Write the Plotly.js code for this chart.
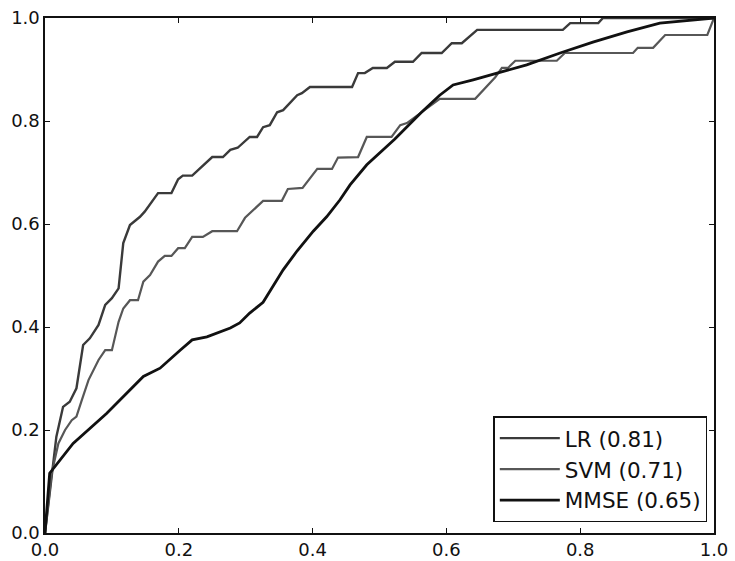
<!DOCTYPE html>
<html>
<head>
<meta charset="utf-8">
<script src="https://cdn.plot.ly/plotly-3.0.1.min.js"></script>
<style>html,body{margin:0;padding:0;background:#fff;}#chart{width:735px;height:561px;}</style>
</head>
<body>
<div id="chart"></div>
<script>
// LR (AUC 0.81)
const lrX = [0,0.010,0.017,0.027,0.037,0.047,0.057,0.067,0.080,0.090,0.100,0.110,0.117,0.127,0.142,0.149,0.159,0.169,0.189,0.199,0.206,0.220,0.250,0.266,0.277,0.288,0.306,0.317,0.326,0.336,0.347,0.356,0.377,0.384,0.396,0.459,0.468,0.478,0.490,0.511,0.523,0.550,0.563,0.593,0.608,0.623,0.646,0.774,0.785,0.827,0.834,1.0];
const lrY = [0,0.116,0.187,0.245,0.255,0.281,0.365,0.378,0.404,0.443,0.456,0.475,0.563,0.598,0.614,0.624,0.643,0.660,0.660,0.687,0.694,0.694,0.730,0.730,0.744,0.748,0.769,0.769,0.788,0.792,0.817,0.821,0.850,0.854,0.866,0.866,0.893,0.893,0.903,0.903,0.915,0.915,0.932,0.932,0.951,0.951,0.977,0.977,0.990,0.990,1.0,1.0];
// SVM (AUC 0.71)
const svmX = [0,0.010,0.020,0.030,0.040,0.047,0.055,0.065,0.080,0.090,0.100,0.110,0.117,0.127,0.139,0.147,0.157,0.169,0.179,0.189,0.199,0.209,0.220,0.236,0.250,0.287,0.299,0.326,0.354,0.363,0.385,0.407,0.429,0.438,0.468,0.481,0.518,0.531,0.541,0.573,0.590,0.643,0.655,0.673,0.683,0.692,0.703,0.765,0.777,0.879,0.886,0.909,0.927,0.990,1.0];
const svmY = [0,0.116,0.174,0.200,0.219,0.226,0.258,0.297,0.336,0.355,0.355,0.410,0.436,0.452,0.452,0.488,0.501,0.527,0.538,0.538,0.553,0.553,0.575,0.575,0.586,0.586,0.612,0.645,0.645,0.668,0.670,0.707,0.707,0.729,0.730,0.769,0.769,0.792,0.796,0.827,0.843,0.843,0.860,0.885,0.903,0.903,0.917,0.917,0.932,0.932,0.942,0.942,0.967,0.967,1.0];
// MMSE (AUC 0.65)
const mmseX = [0,0.007,0.042,0.092,0.147,0.172,0.202,0.220,0.242,0.277,0.291,0.306,0.326,0.347,0.356,0.377,0.401,0.421,0.441,0.456,0.481,0.523,0.562,0.590,0.610,0.640,0.680,0.720,0.770,0.819,0.870,0.919,1.0];
const mmseY = [0,0.116,0.174,0.232,0.304,0.320,0.355,0.375,0.381,0.398,0.408,0.427,0.448,0.491,0.511,0.548,0.586,0.614,0.647,0.676,0.715,0.765,0.816,0.850,0.870,0.880,0.895,0.909,0.932,0.953,0.973,0.990,1.0];

const seriesNames = ['LR (0.81)','SVM (0.71)','MMSE (0.65)'];
const tickVals = [0,0.2,0.4,0.6,0.8,1.0];
const tickText = ['0.0','0.2','0.4','0.6','0.8','1.0'];

const traces = [
  {x: lrX, y: lrY, name: seriesNames[0], legendgroup:'a', mode:'lines', line:{color:'#3a3a3a', width:2.4}},
  {x: svmX, y: svmY, name: seriesNames[1], legendgroup:'b', mode:'lines', line:{color:'#575757', width:2.2}},
  {x: mmseX, y: mmseY, name: seriesNames[2], legendgroup:'c', mode:'lines', line:{color:'#111111', width:2.8}}
];

const axisCommon = {
  range:[0,1], showgrid:false, zeroline:false, showline:true, mirror:'allticks',
  linecolor:'#111', linewidth:1.6, ticks:'inside', ticklen:5, tickwidth:1, tickcolor:'#111',
  tickvals: tickVals, ticktext: tickText,
  tickfont:{family:'DejaVu Sans', size:18, color:'#111'}, fixedrange:true
};

const layout = {
  width:735, height:561,
  margin:{l:45, r:21, t:18, b:28},
  paper_bgcolor:'#fff', plot_bgcolor:'#fff',
  xaxis: Object.assign({}, axisCommon),
  yaxis: Object.assign({}, axisCommon),
  showlegend:true,
  legend:{x:0.99, xanchor:'right', y:0.021, yanchor:'bottom', bgcolor:'#fff',
    bordercolor:'#111', borderwidth:1.5, tracegroupgap:0, traceorder:'grouped',
    itemwidth:60,
    font:{family:'DejaVu Sans', size:21.5, color:'#111'}}
};

Plotly.newPlot('chart', traces, layout, {staticPlot:true, displayModeBar:false});
</script>
</body>
</html>
